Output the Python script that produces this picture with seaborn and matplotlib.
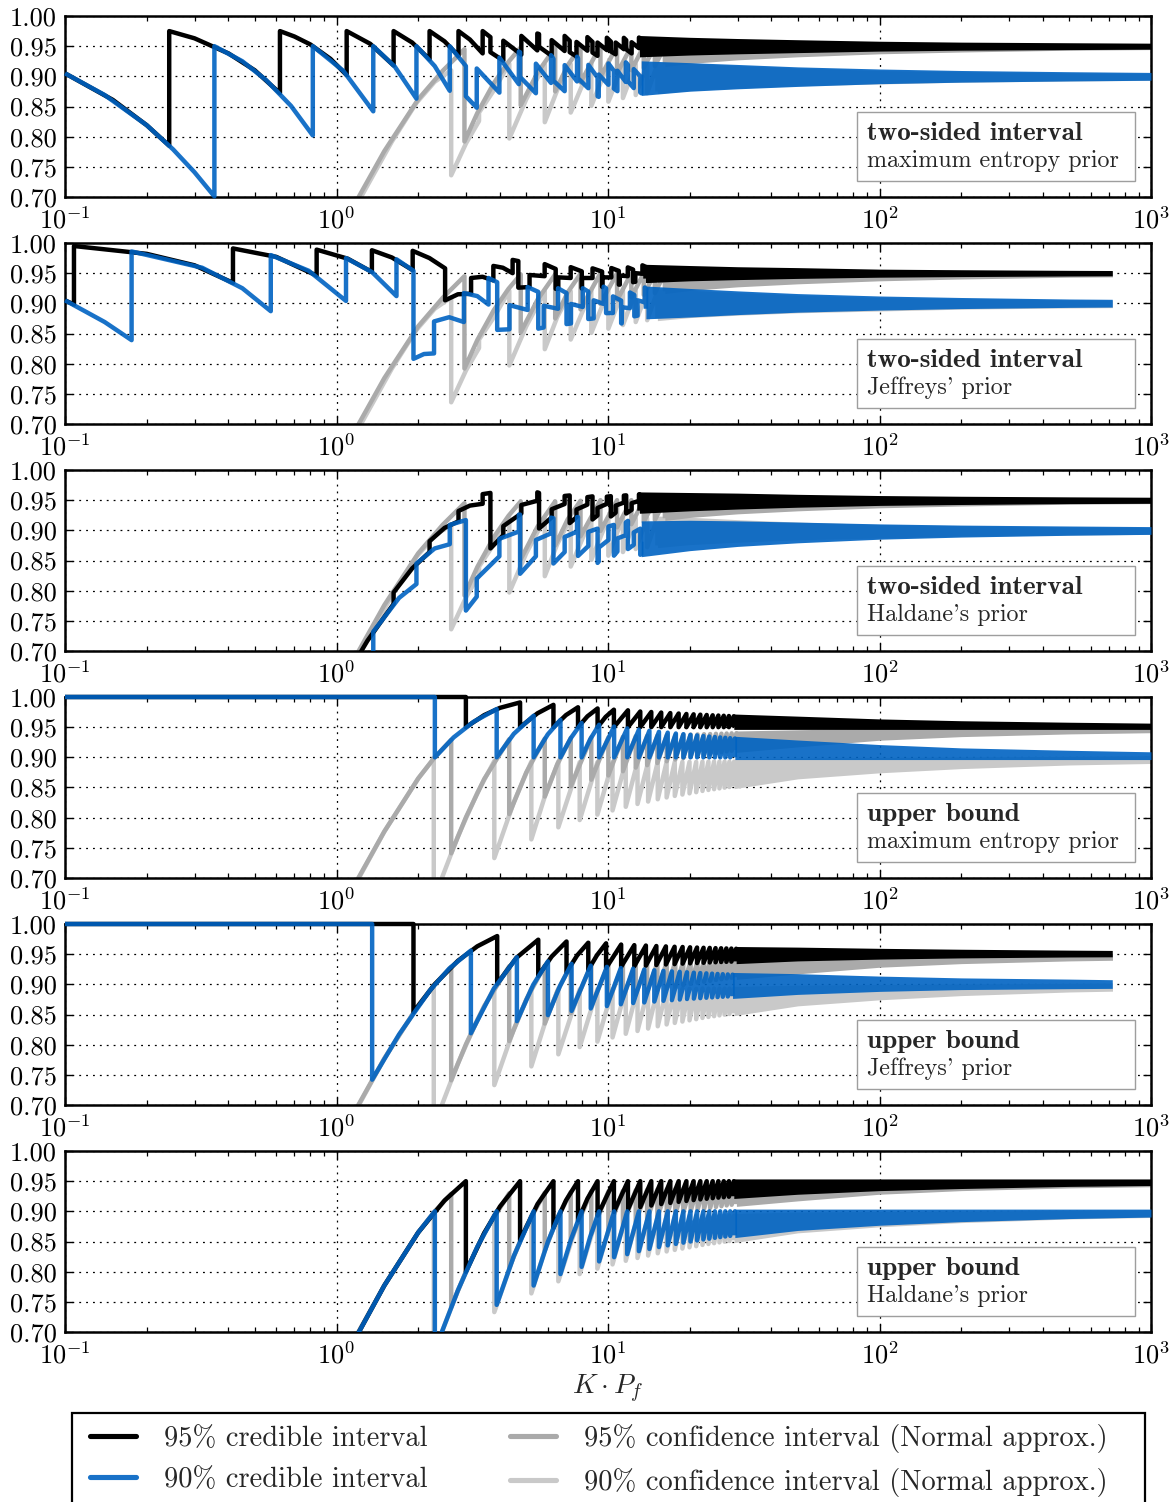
import numpy as np
import matplotlib
matplotlib.use("Agg")
import matplotlib.pyplot as plt
from matplotlib.patches import Rectangle
from matplotlib.lines import Line2D
from matplotlib.ticker import FuncFormatter
import seaborn as sns

# ------------------------------------------------------------------
# Data (x = K*Pf, y = coverage probability).
# Each curve: smooth vertices (x, y), then saw teeth (position, value
# just before the jump, value just after), then the envelope (lo/hi)
# of the region where the teeth merge into a band.
# ------------------------------------------------------------------
# Panel 1: two-sided interval, maximum entropy prior
me2_95_x = [0.1, 0.15, 0.2, 0.242, 0.242, 0.3, 0.4, 0.5, 0.619, 0.619, 0.7, 0.8, 0.95, 1.09, 1.09, 1.33, 1.623, 1.623,
            1.9, 2.202, 2.202, 2.5, 2.814, 2.814, 3.1, 3.454, 3.454, 3.689, 3.689, 4.115, 4.115, 4.795, 4.795, 5.491,
            5.491, 5.572, 5.572]
me2_95_y = [0.905, 0.861, 0.819, 0.785, 0.975, 0.963, 0.938, 0.910, 0.872, 0.975, 0.966, 0.953, 0.929, 0.902, 0.975,
            0.954, 0.918, 0.975, 0.956, 0.928, 0.975, 0.958, 0.934, 0.975, 0.961, 0.938, 0.975, 0.965, 0.940, 0.926,
            0.959, 0.936, 0.967, 0.943, 0.971, 0.970, 0.949]
me2_95_tx = [6.201, 6.922, 7.225, 7.654, 8.396, 8.767, 9.146, 9.903, 10.242, 10.668, 11.44, 11.668, 12.217, 13.0, 13.059]
me2_95_tb = [0.934, 0.942, 0.959, 0.933, 0.9425, 0.957, 0.934, 0.9435, 0.9576, 0.9365, 0.945, 0.960, 0.938, 0.9467, 0.964]
me2_95_ta = [0.960, 0.967, 0.940, 0.957, 0.965, 0.9394, 0.956, 0.964, 0.9413, 0.956, 0.9638, 0.9447, 0.9565, 0.9643, 0.950]
me2_95_bx = [13.059, 20, 30, 50, 100, 200, 500, 1000]
me2_95_lo = [0.936, 0.939, 0.941, 0.943, 0.9455, 0.947, 0.948, 0.9487]
me2_95_hi = [0.964, 0.961, 0.959, 0.957, 0.9545, 0.953, 0.952, 0.9513]

me2_90_x = [0.1, 0.14, 0.2, 0.25, 0.3, 0.355, 0.355, 0.45, 0.55, 0.68, 0.818, 0.818, 1.06, 1.366, 1.366, 1.64, 1.97,
            1.97, 2.3, 2.613, 2.613, 2.996, 2.996, 3.285, 3.285, 3.981, 3.981, 4.695, 4.695, 4.744, 4.744, 5.425, 5.425]
me2_90_y = [0.905, 0.869, 0.819, 0.779, 0.741, 0.701, 0.950, 0.925, 0.894, 0.851, 0.802, 0.950, 0.909, 0.842, 0.950,
            0.916, 0.863, 0.950, 0.917, 0.876, 0.950, 0.917, 0.867, 0.848, 0.913, 0.873, 0.931, 0.887, 0.941, 0.940,
            0.899, 0.872, 0.921]
me2_90_tx = [6.169, 6.296, 6.924, 7.69, 7.754, 8.464, 9.154, 9.246, 10.036, 10.513, 10.832, 11.634, 11.842, 12.442,
             13.148, 13.255]
me2_90_tb = [0.889, 0.929, 0.8754, 0.8916, 0.930, 0.8803, 0.898, 0.866, 0.886, 0.909, 0.8754, 0.8905, 0.919, 0.8805,
             0.900, 0.872]
me2_90_ta = [0.935, 0.8927, 0.9186, 0.9325, 0.8968, 0.919, 0.867, 0.903, 0.9214, 0.8797, 0.9093, 0.9232, 0.8919, 0.912,
             0.8736, 0.9025]
me2_90_bx = [13.255, 20, 30, 50, 100, 200, 500, 1000]
me2_90_lo = [0.872, 0.879, 0.883, 0.887, 0.8915, 0.894, 0.896, 0.8972]
me2_90_hi = [0.922, 0.919, 0.916, 0.912, 0.9085, 0.906, 0.904, 0.9028]

# Panel 2: two-sided interval, Jeffreys' prior
jf2_95_x = [0.1, 0.1079, 0.1079, 0.2, 0.3, 0.4156, 0.4156, 0.6, 0.845, 0.845, 1.1, 1.35, 1.35, 1.6, 1.908, 1.908,
            2.2, 2.512, 2.512, 2.8, 3.131, 3.131, 3.45, 3.782, 3.782, 4.1, 4.453, 4.453, 4.674, 4.674, 5.141, 5.141]
jf2_95_y = [0.905, 0.898, 0.995, 0.982, 0.963, 0.934, 0.991, 0.977, 0.946, 0.989, 0.974, 0.952, 0.988, 0.976, 0.955,
            0.987, 0.975, 0.958, 0.905, 0.915, 0.916, 0.942, 0.944, 0.938, 0.962, 0.959, 0.950, 0.972, 0.970, 0.926,
            0.927, 0.947]
jf2_95_tx = [5.844, 6.417, 6.56, 7.287, 8.006, 8.024, 8.77, 9.511, 9.524, 10.285, 10.96, 11.053, 11.827, 12.37, 12.607,
             13.39, 13.74]
jf2_95_tb = [0.945, 0.957, 0.924, 0.942, 0.953, 0.9246, 0.942, 0.9526, 0.927, 0.943, 0.9538, 0.931, 0.945, 0.956,
             0.9357, 0.949, 0.9607]
jf2_95_ta = [0.965, 0.924, 0.943, 0.960, 0.9246, 0.942, 0.958, 0.9274, 0.943, 0.9585, 0.931, 0.946, 0.9596, 0.935,
             0.950, 0.963, 0.941]
jf2_95_bx = [13.74, 20, 30, 50, 100, 200, 500, 720]
jf2_95_lo = [0.938, 0.941, 0.943, 0.945, 0.947, 0.948, 0.949, 0.9493]
jf2_95_hi = [0.961, 0.959, 0.957, 0.9555, 0.953, 0.952, 0.951, 0.9507]

jf2_90_x = [0.1, 0.14, 0.1759, 0.1759, 0.32, 0.45, 0.5727, 0.5727, 0.79, 1.084, 1.084, 1.35, 1.663, 1.663, 1.921,
            1.921, 2.1, 2.287, 2.287, 2.6, 2.946, 2.946, 3.3, 3.63, 3.63, 3.907, 3.907, 4.336, 4.336, 5.059, 5.059,
            5.535, 5.535]
jf2_90_y = [0.905, 0.869, 0.839, 0.986, 0.959, 0.925, 0.887, 0.980, 0.954, 0.904, 0.975, 0.952, 0.912, 0.973, 0.954,
            0.808, 0.816, 0.817, 0.870, 0.877, 0.869, 0.917, 0.912, 0.898, 0.942, 0.935, 0.856, 0.857, 0.897, 0.889,
            0.927, 0.919, 0.858]
jf2_90_tx = [5.795, 6.545, 7.034, 7.306, 8.076, 8.46, 8.854, 9.64, 9.84, 10.43, 11.18, 11.23, 12.04, 12.5, 12.85,
             13.66, 13.79]
jf2_90_tb = [0.860, 0.891, 0.917, 0.8667, 0.894, 0.9195, 0.875, 0.899, 0.9248, 0.884, 0.9046, 0.8666, 0.892, 0.9138,
             0.8796, 0.9017, 0.924]
jf2_90_ta = [0.896, 0.925, 0.8656, 0.899, 0.925, 0.874, 0.905, 0.9276, 0.8838, 0.9115, 0.867, 0.8934, 0.918, 0.8785,
             0.905, 0.9263, 0.891]
jf2_90_bx = [13.79, 20, 30, 50, 100, 200, 500, 720]
jf2_90_lo = [0.878, 0.881, 0.885, 0.889, 0.8925, 0.895, 0.897, 0.8975]
jf2_90_hi = [0.925, 0.921, 0.917, 0.9125, 0.9085, 0.906, 0.9035, 0.903]

# Panel 3: two-sided interval, Haldane's prior
hd2_95_x = [1.0, 1.09, 1.09, 1.3, 1.623, 1.623, 1.9, 2.202, 2.202, 2.5, 2.814, 2.814, 3.1, 3.454, 3.454, 3.689,
            3.689, 4.115, 4.115, 4.795, 4.795, 5.491, 5.491, 5.572, 5.572]
hd2_95_y = [0.613, 0.639, 0.659, 0.717, 0.778, 0.797, 0.837, 0.864, 0.882, 0.904, 0.915, 0.932, 0.941, 0.944, 0.960,
            0.962, 0.870, 0.892, 0.907, 0.928, 0.942, 0.949, 0.963, 0.962, 0.903]
hd2_95_tx = [6.201, 6.922, 7.225, 7.654, 8.396, 8.767, 9.146, 9.903, 10.242, 10.668, 11.44, 11.668, 12.217, 13.0, 13.059]
hd2_95_tb = [0.9214, 0.9436, 0.9578, 0.9216, 0.9426, 0.9563, 0.9247, 0.9439, 0.9566, 0.9293, 0.946, 0.958, 0.934,
             0.9488, 0.960]
hd2_95_ta = [0.935, 0.957, 0.912, 0.9345, 0.955, 0.918, 0.937, 0.9558, 0.923, 0.941, 0.9576, 0.928, 0.945, 0.9597,
             0.9326]
hd2_95_bx = [13.059, 20, 30, 50, 100, 200, 500, 1000]
hd2_95_lo = [0.932, 0.936, 0.939, 0.942, 0.945, 0.9465, 0.948, 0.9485]
hd2_95_hi = [0.960, 0.959, 0.958, 0.956, 0.954, 0.9528, 0.9518, 0.9512]

hd2_90_x = [1.2, 1.366, 1.366, 1.7, 1.97, 1.97, 2.3, 2.613, 2.613, 2.996, 2.996, 3.285, 3.285, 3.981, 3.981, 4.695,
            4.695, 4.744, 4.744, 5.425, 5.425, 6.169, 6.169, 6.296, 6.296]
hd2_90_y = [0.665, 0.695, 0.732, 0.788, 0.811, 0.845, 0.870, 0.877, 0.909, 0.917, 0.767, 0.790, 0.820, 0.857, 0.886,
            0.898, 0.926, 0.926, 0.828, 0.857, 0.884, 0.895, 0.921, 0.920, 0.845]
hd2_90_tx = [6.924, 7.69, 7.754, 8.464, 9.154, 9.246, 10.036, 10.513, 10.832, 11.634, 11.842, 12.442, 13.148, 13.255]
hd2_90_tb = [0.864, 0.898, 0.922, 0.874, 0.9028, 0.8485, 0.884, 0.909, 0.865, 0.892, 0.9157, 0.876, 0.9027, 0.8608]
hd2_90_ta = [0.889, 0.922, 0.8576, 0.8975, 0.846, 0.8713, 0.9064, 0.858, 0.8866, 0.913, 0.869, 0.8966, 0.8595, 0.881]
hd2_90_bx = [13.255, 20, 30, 50, 100, 200, 500, 1000]
hd2_90_lo = [0.860, 0.870, 0.877, 0.883, 0.889, 0.8925, 0.8955, 0.897]
hd2_90_hi = [0.912, 0.913, 0.912, 0.910, 0.907, 0.905, 0.9035, 0.9025]

# Normal-approximation confidence intervals, two-sided (panels 1-3)
na2_95_x = [1.0, 1.2, 1.5, 2.0, 2.46, 2.96, 2.96, 3.3, 3.8, 4.3, 4.77, 4.77, 5.5, 6.39, 6.39, 7.1, 7.92, 7.92, 9.38,
            9.38, 10.8, 10.8, 12.19, 12.19, 13.54, 13.54, 14.88, 14.88, 16.2, 16.2]
na2_95_y = [0.631, 0.698, 0.776, 0.862, 0.909, 0.945, 0.792, 0.839, 0.889, 0.924, 0.948, 0.852, 0.906, 0.948, 0.875,
            0.918, 0.949, 0.890, 0.950, 0.899, 0.950, 0.905, 0.950, 0.910, 0.950, 0.914, 0.950, 0.917, 0.950, 0.920]
na2_95_tx, na2_95_tb, na2_95_ta = [], [], []
na2_95_bx = [16.2, 20, 30, 50, 100, 200, 500, 1000]
na2_95_lo = [0.920, 0.925, 0.931, 0.936, 0.941, 0.944, 0.947, 0.948]
na2_95_hi = [0.950, 0.951, 0.951, 0.951, 0.951, 0.951, 0.950, 0.950]

na2_90_x = [1.0, 1.2, 1.6, 1.97, 2.3, 2.645, 2.645, 3.0, 3.35, 3.35, 3.8, 4.33, 4.33, 5.0, 5.85, 5.85, 6.5, 7.29, 7.29,
            8.68, 8.68, 10.03, 10.03, 11.35, 11.35, 12.65, 12.65, 13.94, 13.94, 15.2, 15.2]
na2_90_y = [0.628, 0.691, 0.792, 0.856, 0.891, 0.910, 0.736, 0.789, 0.826, 0.840, 0.877, 0.921, 0.797, 0.862, 0.920,
            0.824, 0.877, 0.920, 0.840, 0.921, 0.851, 0.921, 0.858, 0.921, 0.864, 0.920, 0.869, 0.920, 0.872, 0.920,
            0.875]
na2_90_tx, na2_90_tb, na2_90_ta = [], [], []
na2_90_bx = [15.2, 20, 30, 50, 100, 200, 500, 1000]
na2_90_lo = [0.875, 0.880, 0.884, 0.888, 0.891, 0.894, 0.896, 0.897]
na2_90_hi = [0.920, 0.918, 0.914, 0.910, 0.906, 0.904, 0.902, 0.901]

# Panel 4: upper bound, maximum entropy prior
me1_95_x = [0.1, 2.996, 2.996, 3.5, 4.0, 4.744, 4.744, 5.5, 6.296, 6.296, 7.0, 7.754, 7.754, 8.4, 9.154, 9.154, 9.8,
            10.513, 10.513, 11.842, 11.842, 13.148, 13.148]
me1_95_y = [1.0, 1.0, 0.950, 0.970, 0.982, 0.991, 0.950, 0.973, 0.987, 0.950, 0.970, 0.983, 0.950, 0.968, 0.981,
            0.950, 0.967, 0.979, 0.950, 0.978, 0.950, 0.976, 0.950]
me1_95_tx = [14.435, 15.705, 16.962, 18.208, 19.443, 20.669, 21.886, 23.097, 24.301, 25.499, 26.692, 27.879, 29.062]
me1_95_tb = [0.9752, 0.9743, 0.9734, 0.9727, 0.9719, 0.9713, 0.9707, 0.9702, 0.9697, 0.9693, 0.9689, 0.9685, 0.9681]
me1_95_ta = [0.95, 0.95, 0.95, 0.95, 0.95, 0.95, 0.95, 0.95, 0.95, 0.95, 0.95, 0.95, 0.95]
me1_95_bx = [29.062, 50, 100, 200, 500, 1000]
me1_95_lo = [0.950, 0.950, 0.950, 0.950, 0.950, 0.950]
me1_95_hi = [0.9681, 0.9646, 0.960, 0.957, 0.9545, 0.953]

me1_90_x = [0.1, 2.303, 2.303, 2.7, 3.2, 3.89, 3.89, 4.5, 5.322, 5.322, 6.0, 6.681, 6.681, 7.3, 7.994, 7.994, 8.6,
            9.275, 9.275, 10.532, 10.532, 11.771, 11.771]
me1_90_y = [1.0, 1.0, 0.900, 0.933, 0.959, 0.980, 0.900, 0.939, 0.969, 0.900, 0.938, 0.962, 0.900, 0.932, 0.957,
            0.900, 0.930, 0.954, 0.900, 0.951, 0.900, 0.948, 0.900]
me1_90_tx = [12.995, 14.206, 15.407, 16.598, 17.782, 18.958, 20.128, 21.292, 22.452, 23.606, 24.756, 25.903, 27.045,
             28.185, 29.32]
me1_90_tb = [0.9458, 0.944, 0.9423, 0.9409, 0.9395, 0.9384, 0.9373, 0.9363, 0.9353, 0.9345, 0.9337, 0.933, 0.9324,
             0.9318, 0.9312]
me1_90_ta = [0.90, 0.90, 0.90, 0.90, 0.90, 0.90, 0.90, 0.90, 0.90, 0.90, 0.90, 0.90, 0.90, 0.90, 0.90]
me1_90_bx = [29.32, 50, 100, 200, 500, 1000]
me1_90_lo = [0.900, 0.900, 0.900, 0.900, 0.900, 0.900]
me1_90_hi = [0.9312, 0.925, 0.9175, 0.912, 0.908, 0.9055]

# Panel 5: upper bound, Jeffreys' prior
jf1_95_x = [0.1, 1.921, 1.921, 2.3, 2.8, 3.3, 3.907, 3.907, 4.6, 5.535, 5.535, 6.2, 7.034, 7.034, 7.7, 8.46, 8.46,
            9.1, 9.84, 9.84, 11.18, 11.18, 12.5, 12.5]
jf1_95_y = [1.0, 1.0, 0.854, 0.900, 0.939, 0.963, 0.980, 0.901, 0.944, 0.974, 0.914, 0.946, 0.971, 0.920, 0.948,
            0.969, 0.924, 0.948, 0.968, 0.927, 0.966, 0.929, 0.965, 0.930]
jf1_95_tx = [13.79, 15.07, 16.34, 17.59, 18.83, 20.06, 21.28, 22.49, 23.7, 24.9, 26.1, 27.29, 28.47, 29.65]
jf1_95_tb = [0.9643, 0.9635, 0.9629, 0.9623, 0.9619, 0.9614, 0.961, 0.9606, 0.9604, 0.960, 0.9598, 0.9595, 0.9593,
             0.959]
jf1_95_ta = [0.931, 0.932, 0.9329, 0.9335, 0.9343, 0.9348, 0.9353, 0.9357, 0.9363, 0.9366, 0.937, 0.9373, 0.9376,
             0.938]
jf1_95_bx = [29.65, 50, 100, 200, 500, 720]
jf1_95_lo = [0.938, 0.9425, 0.9455, 0.9475, 0.949, 0.9493]
jf1_95_hi = [0.959, 0.958, 0.956, 0.9545, 0.953, 0.9525]

jf1_90_x = [0.1, 1.353, 1.353, 1.7, 2.2, 2.6, 3.126, 3.126, 3.8, 4.618, 4.618, 5.3, 6.008, 6.008, 6.65, 7.342, 7.342,
            8.638, 8.638, 9.906, 9.906, 11.15, 11.15, 12.38, 12.38]
jf1_90_y = [1.0, 1.0, 0.742, 0.817, 0.889, 0.926, 0.956, 0.819, 0.893, 0.945, 0.839, 0.899, 0.938, 0.849, 0.897,
            0.934, 0.856, 0.931, 0.860, 0.929, 0.864, 0.927, 0.867, 0.926, 0.869]
jf1_90_tx = [13.60, 14.81, 16.00, 17.19, 18.37, 19.54, 20.71, 21.87, 23.03, 24.18, 25.33, 26.47, 27.62, 28.75]
jf1_90_tb = [0.9245, 0.9233, 0.9223, 0.9214, 0.9207, 0.920, 0.9193, 0.9187, 0.9182, 0.9177, 0.9172, 0.9168, 0.9164,
             0.916]
jf1_90_ta = [0.870, 0.8715, 0.8727, 0.8738, 0.8748, 0.8757, 0.8764, 0.8771, 0.8778, 0.8784, 0.8789, 0.8794, 0.8799,
             0.8803]
jf1_90_bx = [28.75, 50, 100, 200, 500, 720]
jf1_90_lo = [0.8803, 0.887, 0.892, 0.895, 0.8965, 0.897]
jf1_90_hi = [0.916, 0.914, 0.910, 0.907, 0.905, 0.904]

# Panel 6: upper bound, Haldane's prior
hd1_95_x = [1.0, 1.5, 2.0, 2.5, 2.996, 2.996, 3.5, 4.0, 4.744, 4.744, 5.5, 6.296, 6.296, 7.0, 7.754, 7.754, 8.4,
            9.154, 9.154, 10.513, 10.513, 11.842, 11.842, 13.148, 13.148]
hd1_95_y = [0.632, 0.777, 0.865, 0.918, 0.950, 0.800, 0.864, 0.908, 0.950, 0.852, 0.912, 0.950, 0.873, 0.918, 0.950,
            0.885, 0.921, 0.950, 0.893, 0.950, 0.899, 0.950, 0.903, 0.950, 0.907]
hd1_95_tx = [14.435, 15.705, 16.962, 18.208, 19.443, 20.669, 21.886, 23.097, 24.301, 25.499, 26.692, 27.879, 29.062]
hd1_95_tb = [0.95, 0.95, 0.95, 0.95, 0.95, 0.95, 0.95, 0.95, 0.95, 0.95, 0.95, 0.95, 0.95]
hd1_95_ta = [0.9096, 0.912, 0.9139, 0.9157, 0.9172, 0.9186, 0.9198, 0.9208, 0.9218, 0.9227, 0.9234, 0.9242, 0.925]
hd1_95_bx = [29.062, 50, 100, 200, 500, 1000]
hd1_95_lo = [0.925, 0.932, 0.938, 0.9415, 0.945, 0.9465]
hd1_95_hi = [0.950, 0.950, 0.950, 0.950, 0.950, 0.950]

hd1_90_x = [1.0, 1.5, 2.0, 2.303, 2.303, 2.8, 3.3, 3.89, 3.89, 4.5, 5.322, 5.322, 6.0, 6.681, 6.681, 7.3, 7.994,
            7.994, 8.6, 9.275, 9.275, 10.532, 10.532, 11.771, 11.771]
hd1_90_y = [0.632, 0.777, 0.865, 0.900, 0.670, 0.769, 0.841, 0.900, 0.745, 0.826, 0.900, 0.777, 0.849, 0.900, 0.796,
            0.853, 0.900, 0.808, 0.858, 0.900, 0.817, 0.900, 0.824, 0.900, 0.829]
hd1_90_tx = [12.995, 14.206, 15.407, 16.598, 17.782, 18.958, 20.128, 21.292, 22.452, 23.606, 24.756, 25.903, 27.045,
             28.185, 29.32]
hd1_90_tb = [0.90, 0.90, 0.90, 0.90, 0.90, 0.90, 0.90, 0.90, 0.90, 0.90, 0.90, 0.90, 0.90, 0.90, 0.90]
hd1_90_ta = [0.834, 0.8376, 0.8408, 0.8436, 0.846, 0.8481, 0.850, 0.8517, 0.8534, 0.8546, 0.8561, 0.8573, 0.8583,
             0.8593, 0.8602]
hd1_90_bx = [29.32, 50, 100, 200, 500, 1000]
hd1_90_lo = [0.8602, 0.872, 0.8806, 0.8866, 0.8917, 0.8942]
hd1_90_hi = [0.900, 0.900, 0.900, 0.900, 0.900, 0.900]

# Normal-approximation confidence intervals, upper bound (panels 4-6)
na1_95_x = [1.0, 1.2, 1.5, 2.0, 2.3, 2.645, 2.645, 3.0, 3.5, 4.326, 4.326, 5.0, 5.849, 5.849, 6.5, 7.29, 7.29, 8.678,
            8.678, 10.03, 10.03, 11.35, 11.35, 12.65, 12.65]
na1_95_y = [0.632, 0.699, 0.777, 0.865, 0.900, 0.929, 0.741, 0.801, 0.864, 0.930, 0.806, 0.875, 0.931, 0.835, 0.888,
            0.932, 0.852, 0.933, 0.863, 0.933, 0.870, 0.934, 0.877, 0.935, 0.883]
na1_95_tx = [13.935, 15.202, 16.456, 17.698, 18.931, 20.155, 21.371, 22.58, 23.783, 24.979, 26.17, 27.357, 28.538,
             29.716]
na1_95_tb = [0.9355, 0.936, 0.9365, 0.937, 0.9373, 0.9377, 0.938, 0.9383, 0.9386, 0.939, 0.9392, 0.9395, 0.9398, 0.940]
na1_95_ta = [0.887, 0.8906, 0.8935, 0.8964, 0.8986, 0.9007, 0.9025, 0.9043, 0.9057, 0.9072, 0.9085, 0.9098, 0.9109,
             0.9119]
na1_95_bx = [29.716, 50, 100, 200, 500, 1000]
na1_95_lo = [0.9119, 0.921, 0.932, 0.938, 0.9425, 0.9445]
na1_95_hi = [0.940, 0.942, 0.9445, 0.946, 0.9475, 0.948]

na1_90_x = [1.0, 1.5, 2.0, 2.2816, 2.2816, 2.8, 3.3, 3.8125, 3.8125, 4.5, 5.22, 5.22, 5.85, 6.563, 6.563, 7.866,
            7.866, 9.139, 9.139, 10.391, 10.391, 11.625, 11.625]
na1_90_y = [0.632, 0.777, 0.865, 0.898, 0.665, 0.769, 0.841, 0.894, 0.733, 0.826, 0.893, 0.764, 0.835, 0.893, 0.784,
            0.892, 0.796, 0.892, 0.805, 0.892, 0.812, 0.892, 0.818]
na1_90_tx = [12.845, 14.053, 15.25, 16.44, 17.62, 18.795, 19.964, 21.126, 22.284, 23.437, 24.586, 25.731, 26.873,
             28.011, 29.146]
na1_90_tb = [0.892, 0.892, 0.8925, 0.8925, 0.8925, 0.8925, 0.8925, 0.8925, 0.893, 0.893, 0.893, 0.893, 0.893, 0.893,
             0.893]
na1_90_ta = [0.8227, 0.8267, 0.8305, 0.8335, 0.836, 0.8383, 0.8403, 0.8422, 0.8443, 0.8459, 0.8472, 0.8485, 0.8497,
             0.8508, 0.8518]
na1_90_bx = [29.146, 50, 100, 200, 500, 1000]
na1_90_lo = [0.8518, 0.868, 0.878, 0.885, 0.891, 0.8935]
na1_90_hi = [0.893, 0.895, 0.896, 0.897, 0.898, 0.899]

panel_titles = ["two-sided interval"] * 3 + ["upper bound"] * 3
panel_priors = ["maximum entropy prior", "Jeffreys' prior", "Haldane's prior"] * 2
panel_xend = [1000, 720, 1000, 1000, 720, 1000]
y_ticks = [0.70, 0.75, 0.80, 0.85, 0.90, 0.95, 1.00]
legend_labels = ["95% credible interval", "90% credible interval",
                 "95% confidence interval (Normal approx.)", "90% confidence interval (Normal approx.)"]


def curve(sx, sy, tx, tb, ta, bx, lo, hi):
    """Polyline = smooth vertices followed by vertical jumps at the teeth."""
    x, y = list(sx), list(sy)
    for xi, b, a in zip(tx, tb, ta):
        x += [xi, xi]
        y += [b, a]
    return x, y, bx, lo, hi


cred = [
    (curve(me2_95_x, me2_95_y, me2_95_tx, me2_95_tb, me2_95_ta, me2_95_bx, me2_95_lo, me2_95_hi),
     curve(me2_90_x, me2_90_y, me2_90_tx, me2_90_tb, me2_90_ta, me2_90_bx, me2_90_lo, me2_90_hi)),
    (curve(jf2_95_x, jf2_95_y, jf2_95_tx, jf2_95_tb, jf2_95_ta, jf2_95_bx, jf2_95_lo, jf2_95_hi),
     curve(jf2_90_x, jf2_90_y, jf2_90_tx, jf2_90_tb, jf2_90_ta, jf2_90_bx, jf2_90_lo, jf2_90_hi)),
    (curve(hd2_95_x, hd2_95_y, hd2_95_tx, hd2_95_tb, hd2_95_ta, hd2_95_bx, hd2_95_lo, hd2_95_hi),
     curve(hd2_90_x, hd2_90_y, hd2_90_tx, hd2_90_tb, hd2_90_ta, hd2_90_bx, hd2_90_lo, hd2_90_hi)),
    (curve(me1_95_x, me1_95_y, me1_95_tx, me1_95_tb, me1_95_ta, me1_95_bx, me1_95_lo, me1_95_hi),
     curve(me1_90_x, me1_90_y, me1_90_tx, me1_90_tb, me1_90_ta, me1_90_bx, me1_90_lo, me1_90_hi)),
    (curve(jf1_95_x, jf1_95_y, jf1_95_tx, jf1_95_tb, jf1_95_ta, jf1_95_bx, jf1_95_lo, jf1_95_hi),
     curve(jf1_90_x, jf1_90_y, jf1_90_tx, jf1_90_tb, jf1_90_ta, jf1_90_bx, jf1_90_lo, jf1_90_hi)),
    (curve(hd1_95_x, hd1_95_y, hd1_95_tx, hd1_95_tb, hd1_95_ta, hd1_95_bx, hd1_95_lo, hd1_95_hi),
     curve(hd1_90_x, hd1_90_y, hd1_90_tx, hd1_90_tb, hd1_90_ta, hd1_90_bx, hd1_90_lo, hd1_90_hi)),
]
na_two = (curve(na2_95_x, na2_95_y, na2_95_tx, na2_95_tb, na2_95_ta, na2_95_bx, na2_95_lo, na2_95_hi),
          curve(na2_90_x, na2_90_y, na2_90_tx, na2_90_tb, na2_90_ta, na2_90_bx, na2_90_lo, na2_90_hi))
na_one = (curve(na1_95_x, na1_95_y, na1_95_tx, na1_95_tb, na1_95_ta, na1_95_bx, na1_95_lo, na1_95_hi),
          curve(na1_90_x, na1_90_y, na1_90_tx, na1_90_tb, na1_90_ta, na1_90_bx, na1_90_lo, na1_90_hi))

# ------------------------------------------------------------------
sns.set_theme(style="ticks")
plt.rcParams.update({
    "font.family": ["cmr10", "DejaVu Serif"],
    "mathtext.fontset": "cm",
    "axes.formatter.use_mathtext": True,
    "axes.unicode_minus": False,
    "axes.linewidth": 1.8,
    "axes.edgecolor": "black",
    "xtick.direction": "in", "ytick.direction": "in",
    "xtick.top": True, "ytick.right": True,
    "xtick.major.size": 6, "ytick.major.size": 6,
    "xtick.minor.size": 3.5, "ytick.minor.size": 3.5,
    "xtick.major.width": 1.0, "ytick.major.width": 1.0,
    "xtick.minor.width": 0.9,
    "xtick.color": "black", "ytick.color": "black",
    "xtick.labelsize": 19, "ytick.labelsize": 19,
    "xtick.major.pad": 7, "ytick.major.pad": 6,
    "axes.facecolor": "white", "figure.facecolor": "white",
})

W, H = 1176, 1502
LW = 3.2
PAD = (LW * 100 / 72 / 2) * (0.30 / 181)   # half line width in data units
C_BLACK, A_BLACK = "black", 1.0
C_BLUE, A_BLUE = "#0063c2", 0.9
C_G95, C_G90 = "#aaaaaa", "#c9c9c9"

fig = plt.figure(figsize=(W / 100, H / 100), dpi=100)


def draw_curve(ax, data, color, alpha, z, clip_on=True, clip_rect=None):
    x, y, bx, blo, bhi = data
    sns.lineplot(x=x, y=y, ax=ax, color=color, alpha=alpha, lw=LW, sort=False, estimator=None,
                 zorder=z, clip_on=clip_on, solid_joinstyle="round", solid_capstyle="butt")
    line = ax.lines[-1]
    band = ax.fill_between(bx, np.asarray(blo) - PAD, np.asarray(bhi) + PAD, color=color, alpha=alpha,
                           lw=0, zorder=z, clip_on=clip_on)
    if clip_rect is not None:
        line.set_clip_path(clip_rect)
        band.set_clip_path(clip_rect)


for i in range(6):
    top = 16 + 227 * i
    ax = fig.add_axes([65 / W, 1 - (top + 181) / H, 1086 / W, 181 / H])
    ax.set_xscale("log")
    ax.set_xlim(0.1, 1000)
    ax.set_ylim(0.70, 1.00)

    clip = None
    if panel_xend[i] < 1000:
        clip = Rectangle((0.1, 0.70), panel_xend[i] - 0.1, 0.30, transform=ax.transData)
    g95, g90 = na_two if i < 3 else na_one
    draw_curve(ax, g90, C_G90, 1.0, 1.5, clip_rect=clip)
    draw_curve(ax, g95, C_G95, 1.0, 1.6, clip_rect=clip)
    c95, c90 = cred[i]
    free = i in (0, 1, 3, 4)
    draw_curve(ax, c95, C_BLACK, A_BLACK, 3.0, clip_on=not free)
    draw_curve(ax, c90, C_BLUE, A_BLUE, 3.1, clip_on=not free)

    ax.set_yticks(y_ticks)
    ax.yaxis.set_major_formatter(FuncFormatter(lambda v, p: f"{v:.2f}"))
    ax.set_axisbelow(True)
    ax.grid(True, which="major", color="black", linestyle=(0, (1.5, 4.0)), linewidth=0.9)
    ax.grid(False, which="minor")
    ax.set_xlabel("")
    ax.set_ylabel("")
    for s in ax.spines.values():
        s.set_zorder(2.9)

    # annotation box
    ax.add_patch(Rectangle((0.7297, 0.090), 0.2560, 0.381, transform=ax.transAxes,
                           facecolor="white", edgecolor="0.62", lw=1.0, zorder=5))
    ax.text(0.7389, 0.315, panel_titles[i], transform=ax.transAxes, fontsize=19.6,
            family="cmb10", ha="left", va="baseline", zorder=6)
    ax.text(0.7389, 0.167, panel_priors[i], transform=ax.transAxes, fontsize=17.3,
            ha="left", va="baseline", zorder=6)

fig.text(608 / W, 1 - 1389 / H, r"$K\cdot P_f$", ha="center", va="center", fontsize=20)

# legend (frame drawn separately so it runs off the bottom edge like the original)
fig.add_artist(Rectangle((72 / W, -0.02), 1073 / W, (1502 - 1413) / H + 0.02, transform=fig.transFigure,
                         fill=False, edgecolor="black", lw=1.6))
handles = [Line2D([], [], color=C_BLACK, alpha=A_BLACK, lw=LW + 0.5),
           Line2D([], [], color=C_BLUE, alpha=A_BLUE, lw=LW + 0.5),
           Line2D([], [], color=C_G95, lw=LW + 0.5),
           Line2D([], [], color=C_G90, lw=LW + 0.5)]
fig.legend(handles, legend_labels, loc="upper left", bbox_to_anchor=(90 / W, 1 - 1424 / H), ncol=2,
           frameon=False, fontsize=20.5, handlelength=1.6, handletextpad=1.0, borderpad=0.0,
           labelspacing=0.53, columnspacing=2.9, borderaxespad=0.0)

fig.savefig("out.png", dpi=100)
